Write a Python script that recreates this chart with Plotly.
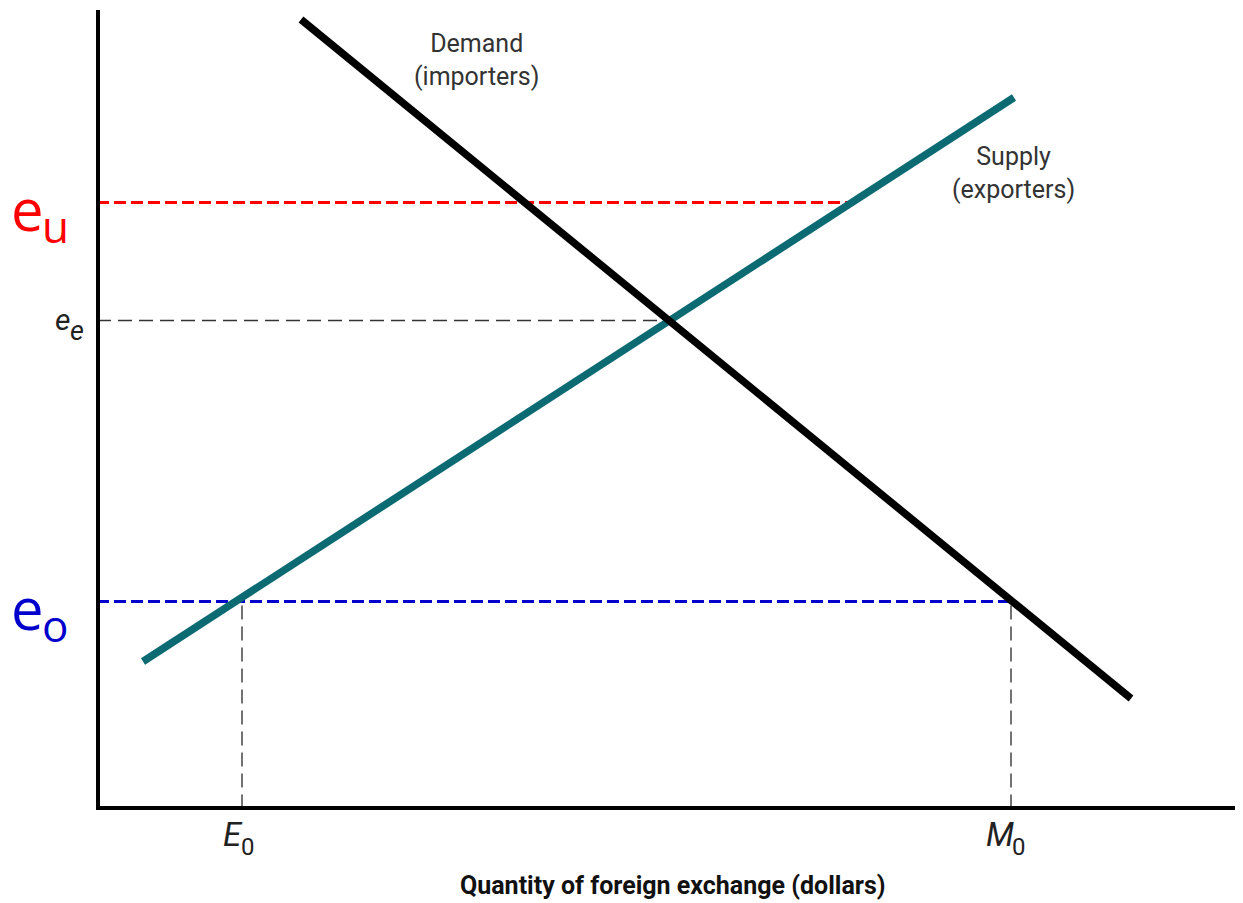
import plotly.graph_objects as go

# ---- data (arbitrary units: quantity on x, exchange rate on y) ----
demand_q = [20.4, 103.4]
demand_p = [78.9, 11.0]
supply_q = [4.6, 91.7]
supply_p = [14.7, 71.1]

e_u = 60.6      # upper (overvalued) rate
e_e = 48.8      # equilibrium rate
e_o = 20.7      # lower rate
q_u = 75.3      # supply quantity at e_u
q_e = 57.2      # equilibrium quantity
E0 = 14.5       # exports at e_o
M0 = 91.4       # imports at e_o

x_range = [0.3, 114.6]
y_range = [0.25, 79.85]

COND = "Roboto, Liberation Sans Narrow, sans-serif"
BIG = "Open Sans, Noto Sans, sans-serif"
TEAL = "#0b6a72"

fig = go.Figure()

# dashed guide lines
fig.add_trace(go.Scatter(x=[0, q_e], y=[e_e, e_e], mode="lines",
                         line=dict(color="#333333", width=1.5, dash="14px,7px"), hoverinfo="skip"))
fig.add_trace(go.Scatter(x=[E0, E0], y=[0, e_o], mode="lines",
                         line=dict(color="#444444", width=1.5, dash="14px,7px"), hoverinfo="skip"))
fig.add_trace(go.Scatter(x=[M0, M0], y=[0, e_o], mode="lines",
                         line=dict(color="#444444", width=1.5, dash="14px,7px"), hoverinfo="skip"))
fig.add_trace(go.Scatter(x=[0, q_u], y=[e_u, e_u], mode="lines",
                         line=dict(color="#ff0000", width=3, dash="12px,5px"), hoverinfo="skip"))
fig.add_trace(go.Scatter(x=[0, M0], y=[e_o, e_o], mode="lines",
                         line=dict(color="#0000cc", width=3, dash="12px,5px"), hoverinfo="skip"))

# supply and demand
fig.add_trace(go.Scatter(x=supply_q, y=supply_p, mode="lines",
                         line=dict(color=TEAL, width=7.5), hoverinfo="skip"))
fig.add_trace(go.Scatter(x=demand_q, y=demand_p, mode="lines",
                         line=dict(color="black", width=7.5), hoverinfo="skip"))

ann = []
# curve labels
ann.append(dict(x=37.9, y=74.9, xref="x", yref="y", text="Demand<br>(importers)",
                showarrow=False, font=dict(family=COND, size=25, color="#333333"),
                xanchor="center", yanchor="middle"))
ann.append(dict(x=91.6, y=63.6, xref="x", yref="y", text="Supply<br>(exporters)",
                showarrow=False, font=dict(family=COND, size=25, color="#333333"),
                xanchor="center", yanchor="middle"))

# big coloured rate labels
ann.append(dict(x=0, y=e_u, xref="paper", yref="y", text="e", showarrow=False,
                font=dict(family=BIG, size=58, color="#ff0000"),
                xanchor="center", yanchor="middle", xshift=-73, yshift=-6))
ann.append(dict(x=0, y=e_u, xref="paper", yref="y", text="u", showarrow=False,
                font=dict(family=BIG, size=44, color="#ff0000"),
                xanchor="center", yanchor="middle", xshift=-45, yshift=-23))
ann.append(dict(x=0, y=e_o, xref="paper", yref="y", text="e", showarrow=False,
                font=dict(family=BIG, size=58, color="#0000cc"),
                xanchor="center", yanchor="middle", xshift=-73, yshift=-6))
ann.append(dict(x=0, y=e_o, xref="paper", yref="y", text="o", showarrow=False,
                font=dict(family=BIG, size=44, color="#0000cc"),
                xanchor="center", yanchor="middle", xshift=-45, yshift=-23))

# e_e label
ann.append(dict(x=0, y=e_e, xref="paper", yref="y", text="<i>e</i>", showarrow=False,
                font=dict(family=COND, size=30, color="#222222"),
                xanchor="center", yanchor="middle", xshift=-38, yshift=1))
ann.append(dict(x=0, y=e_e, xref="paper", yref="y", text="<i>e</i>", showarrow=False,
                font=dict(family=COND, size=27, color="#222222"),
                xanchor="center", yanchor="middle", xshift=-23, yshift=-10))

# E0 / M0 labels
for xv, letter, dx, dx0 in [(E0, "E", -9, 6), (M0, "M", -11, 8)]:
    ann.append(dict(x=xv, y=0, xref="x", yref="paper", text="<i>%s</i>" % letter,
                    showarrow=False, font=dict(family=COND, size=33, color="#222222"),
                    xanchor="center", yanchor="middle", xshift=dx, yshift=-28))
    ann.append(dict(x=xv, y=0, xref="x", yref="paper", text="0",
                    showarrow=False, font=dict(family=COND, size=24, color="#222222"),
                    xanchor="center", yanchor="middle", xshift=dx0, yshift=-41))

# axis title
ann.append(dict(x=57.6, y=0, xref="x", yref="paper",
                text="<b>Quantity of foreign exchange (dollars)</b>", showarrow=False,
                font=dict(family=COND, size=25, color="#111111"),
                xanchor="center", yanchor="middle", yshift=-79))

fig.update_layout(
    width=1235, height=895,
    margin=dict(l=92, r=0, t=2, b=97),
    paper_bgcolor="white", plot_bgcolor="white",
    showlegend=False,
    annotations=ann,
    xaxis=dict(range=x_range, showline=True, linewidth=4, linecolor="black",
               showgrid=False, zeroline=False, showticklabels=False, ticks=""),
    yaxis=dict(range=y_range, showline=True, linewidth=4, linecolor="black",
               showgrid=False, zeroline=False, showticklabels=False, ticks=""),
)

fig.write_html("out.html")
